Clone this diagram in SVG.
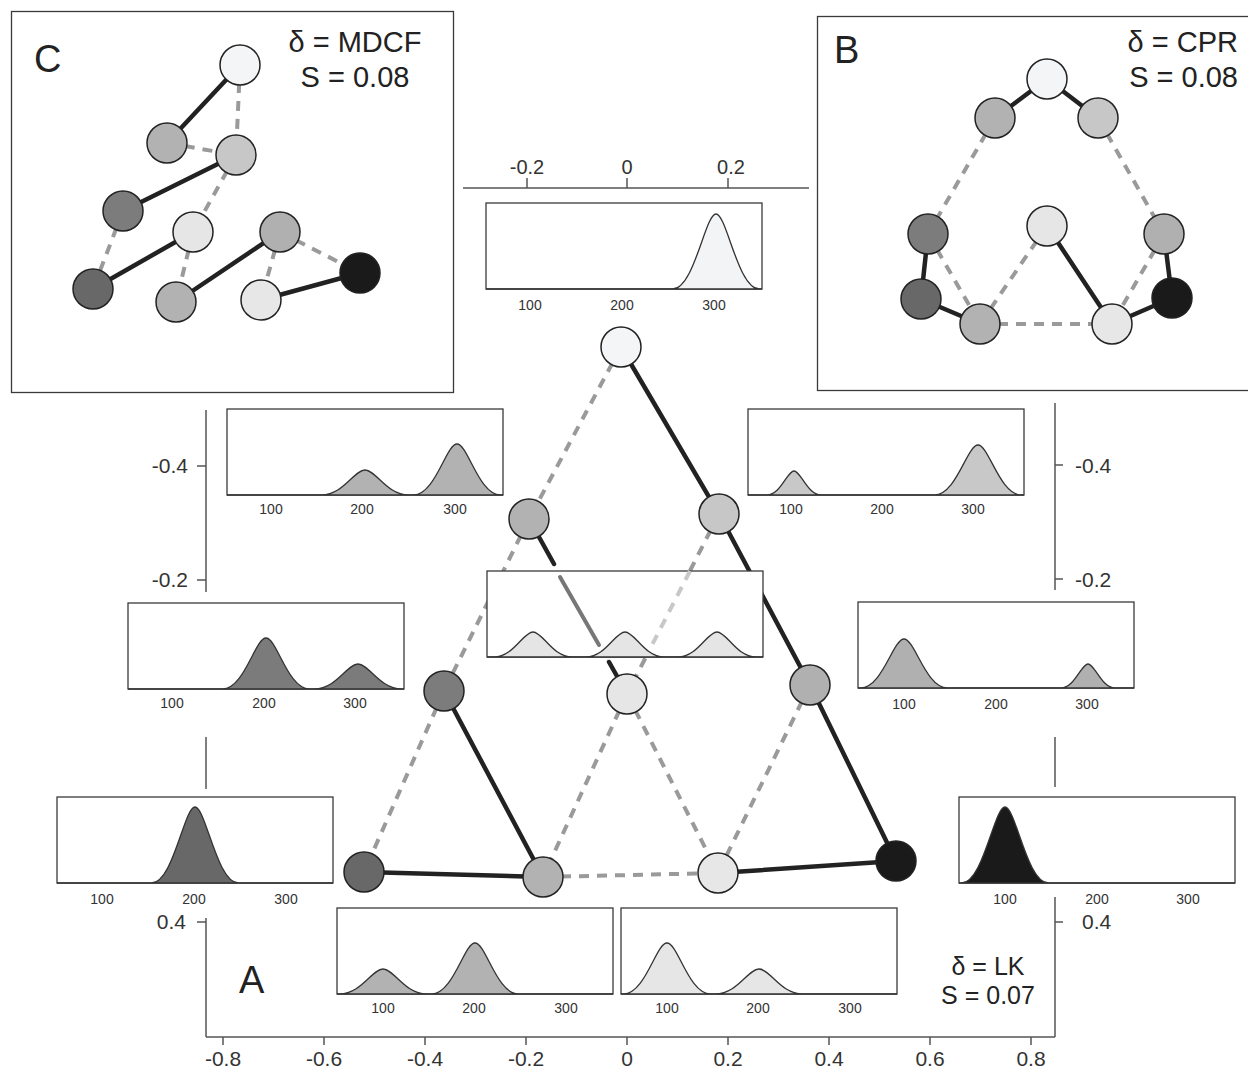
<svg xmlns="http://www.w3.org/2000/svg" width="1248" height="1070" viewBox="0 0 1248 1070">
<style>
.bg{fill:#fff}
.panel{fill:#fff;stroke:#3a3a3a;stroke-width:1.3}
.box{fill:#fff;stroke:#3a3a3a;stroke-width:1.3}
.dens{stroke:#333;stroke-width:1.3}
.lbl{font-family:"Liberation Sans",Arial,sans-serif;font-size:14px;fill:#333;text-anchor:middle}
.tk{font-family:"Liberation Sans",Arial,sans-serif;font-size:21px;fill:#333}
.axis{stroke:#555;stroke-width:1.5;fill:none}
.solid{stroke:#222;stroke-width:4.5;fill:none;stroke-linecap:round}
.dash{stroke:#9a9a9a;stroke-width:4;stroke-dasharray:10 8;fill:none}
.node{stroke:#222;stroke-width:1.5}
.big{font-family:"Liberation Sans",Arial,sans-serif;font-size:38px;fill:#222}
.stat{font-family:"Liberation Sans",Arial,sans-serif;font-size:29px;fill:#222}
.statA{font-family:"Liberation Sans",Arial,sans-serif;font-size:25px;fill:#222;text-anchor:middle}
</style>
<rect class="bg" x="0" y="0" width="1248" height="1070"/>

<!-- axes -->
<g id="axes">
<path class="axis" d="M206,1037 H1055 M206,410 V592 M206,737 V789 M206,918 V1037 M1055,403 V590 M1055,737 V787 M1055,897 V1037"/>
<path class="axis" d="M197,466 H206 M197,580 H206 M197,922 H206 M1055,465 H1063 M1055,579 H1063 M1055,922 H1063"/>
<path class="axis" d="M223,1037 V1045 M324,1037 V1045 M425,1037 V1045 M526,1037 V1045 M627,1037 V1045 M728,1037 V1045 M829,1037 V1045 M930,1037 V1045 M1031,1037 V1045"/>
<path class="axis" stroke="#777" stroke-width="2" d="M463,188 H809 M527,178 V188 M627,178 V188 M728,178 V188"/>
<g class="tk" text-anchor="middle">
<text x="223" y="1066">-0.8</text><text x="324" y="1066">-0.6</text><text x="425" y="1066">-0.4</text><text x="526" y="1066">-0.2</text><text x="627" y="1066">0</text><text x="728" y="1066">0.2</text><text x="829" y="1066">0.4</text><text x="930" y="1066">0.6</text><text x="1031" y="1066">0.8</text>
<text x="527" y="174" font-size="20">-0.2</text><text x="627" y="174" font-size="20">0</text><text x="731" y="174" font-size="20">0.2</text>
</g>
<g class="tk" text-anchor="end">
<text x="188" y="473">-0.4</text><text x="188" y="587">-0.2</text><text x="186" y="929">0.4</text>
</g>
<g class="tk">
<text x="1075" y="473">-0.4</text><text x="1075" y="587">-0.2</text><text x="1082" y="929">0.4</text>
</g>
</g>

<!-- connectors of main triangle -->
<g id="connectors">
<path class="dash" d="M621,347 L529,519 M529,519 L444,691 M444,691 L364,872 M719,514 L627,694 M627,694 L543,877 M627,694 L718,873 M810,685 L718,873 M543,877 L718,873"/>
<path class="solid" d="M621,347 L719,514 L810,685 L896,861"/>
<path class="solid" d="M529,519 L554,564 M609,662 L627,694 M444,691 L543,877 M364,872 L543,877 M718,873 L896,861"/>
</g>

<!-- density plots -->
<g id="plot-top">
<rect class="box" x="486" y="203" width="276" height="86"/>
<path class="dens" fill="#f3f4f6" d="M486,289 L672.5,289 c21.75,0 32.625,-75 43.5,-75 c10.875,0 21.75,75 43.5,75 L762,289 Z"/>
<text class="lbl" x="530" y="310">100</text><text class="lbl" x="622" y="310">200</text><text class="lbl" x="714" y="310">300</text>
</g>
<g id="plot-upper-left">
<rect class="box" x="227" y="409" width="276" height="86"/>
<path class="dens" fill="#b1b2b1" d="M227,495 L321.5,495 c21.75,0 32.625,-25 43.5,-25 c10.875,0 21.75,25 43.5,25 L413.5,495 c21.75,0 32.625,-51 43.5,-51 c10.875,0 21.75,51 43.5,51 L503,495 Z"/>
<text class="lbl" x="271" y="514">100</text><text class="lbl" x="362" y="514">200</text><text class="lbl" x="455" y="514">300</text>
</g>
<g id="plot-upper-right">
<rect class="box" x="748" y="409" width="276" height="86"/>
<path class="dens" fill="#c8c8c8" d="M748,495 L767,495 c13.5,0 20.25,-24 27,-24 c6.75,0 13.5,24 27,24 L934.5,495 c21.75,0 32.625,-50 43.5,-50 c10.875,0 21.75,50 43.5,50 L1024,495 Z"/>
<text class="lbl" x="791" y="514">100</text><text class="lbl" x="882" y="514">200</text><text class="lbl" x="973" y="514">300</text>
</g>
<g id="plot-mid-left">
<rect class="box" x="128" y="603" width="276" height="86"/>
<path class="dens" fill="#7b7b7b" d="M128,689 L222.5,689 c21.75,0 32.625,-51 43.5,-51 c10.875,0 21.75,51 43.5,51 L314.5,689 c21.75,0 32.625,-25 43.5,-25 c10.875,0 21.75,25 43.5,25 L404,689 Z"/>
<text class="lbl" x="172" y="708">100</text><text class="lbl" x="264" y="708">200</text><text class="lbl" x="355" y="708">300</text>
</g>
<g id="plot-mid-right">
<rect class="box" x="858" y="602" width="276" height="86"/>
<path class="dens" fill="#b0b0b0" d="M858,688 L860.5,688 c21.75,0 32.625,-49 43.5,-49 c10.875,0 21.75,49 43.5,49 L1061,688 c13.5,0 20.25,-24 27,-24 c6.75,0 13.5,24 27,24 L1134,688 Z"/>
<text class="lbl" x="904" y="709">100</text><text class="lbl" x="996" y="709">200</text><text class="lbl" x="1087" y="709">300</text>
</g>
<g id="plot-center">
<rect class="box" x="487" y="571" width="276" height="86"/>
<path class="dens" fill="#e4e5e4" d="M487,657 L494,657 c19.5,0 29.25,-25 39,-25 c9.75,0 19.5,25 39,25 L586,657 c19.5,0 29.25,-25 39,-25 c9.75,0 19.5,25 39,25 L678,657 c19.5,0 29.25,-25 39,-25 c9.75,0 19.5,25 39,25 L763,657 Z"/>
<path d="M560,577 L599,645" stroke="#777" stroke-width="4" stroke-linecap="round"/>
<path d="M690,571 L651.5,646" stroke="#c8c8c8" stroke-width="4" stroke-dasharray="10 8"/>
</g>
<g id="plot-bottom-left">
<rect class="box" x="57" y="797" width="276" height="86"/>
<path class="dens" fill="#686868" d="M57,883 L151.5,883 c21.75,0 32.625,-76 43.5,-76 c10.875,0 21.75,76 43.5,76 L333,883 Z"/>
<text class="lbl" x="102" y="904">100</text><text class="lbl" x="194" y="904">200</text><text class="lbl" x="286" y="904">300</text>
</g>
<g id="plot-bottom-right">
<rect class="box" x="959" y="797" width="276" height="86"/>
<path class="dens" fill="#1a1a1a" d="M959,883 L961.5,883 c21.75,0 32.625,-76 43.5,-76 c10.875,0 21.75,76 43.5,76 L1235,883 Z"/>
<text class="lbl" x="1005" y="904">100</text><text class="lbl" x="1097" y="904">200</text><text class="lbl" x="1188" y="904">300</text>
</g>
<g id="plot-bottom-center-left">
<rect class="box" x="337" y="908" width="276" height="86"/>
<path class="dens" fill="#b1b2b1" d="M337,994 L339.5,994 c21.75,0 32.625,-25 43.5,-25 c10.875,0 21.75,25 43.5,25 L431.5,994 c21.75,0 32.625,-51 43.5,-51 c10.875,0 21.75,51 43.5,51 L613,994 Z"/>
<text class="lbl" x="383" y="1013">100</text><text class="lbl" x="474" y="1013">200</text><text class="lbl" x="566" y="1013">300</text>
</g>
<g id="plot-bottom-center-right">
<rect class="box" x="621" y="908" width="276" height="86"/>
<path class="dens" fill="#e5e6e5" d="M621,994 L623.5,994 c21.75,0 32.625,-51 43.5,-51 c10.875,0 21.75,51 43.5,51 L715.5,994 c21.75,0 32.625,-25 43.5,-25 c10.875,0 21.75,25 43.5,25 L897,994 Z"/>
<text class="lbl" x="667" y="1013">100</text><text class="lbl" x="758" y="1013">200</text><text class="lbl" x="850" y="1013">300</text>
</g>

<!-- main nodes -->
<g id="node-T"><circle class="node" cx="621" cy="347" r="20" fill="#f4f5f7"/></g>
<g id="node-UL"><circle class="node" cx="529" cy="519" r="20" fill="#b1b2b1"/></g>
<g id="node-UR"><circle class="node" cx="719" cy="514" r="20" fill="#c7c7c7"/></g>
<g id="node-ML"><circle class="node" cx="444" cy="691" r="20" fill="#7c7c7c"/></g>
<g id="node-MC"><circle class="node" cx="627" cy="694" r="20" fill="#e5e6e5"/></g>
<g id="node-MR"><circle class="node" cx="810" cy="685" r="20" fill="#b0b0b0"/></g>
<g id="node-BL"><circle class="node" cx="364" cy="872" r="20" fill="#686868"/></g>
<g id="node-BCL"><circle class="node" cx="543" cy="877" r="20" fill="#b1b2b1"/></g>
<g id="node-BCR"><circle class="node" cx="718" cy="873" r="20" fill="#e6e7e6"/></g>
<g id="node-BR"><circle class="node" cx="896" cy="861" r="20" fill="#1a1a1a"/></g>

<text class="big" x="239" y="993">A</text>
<text class="statA" x="988" y="975">δ = LK</text>
<text class="statA" x="988" y="1004">S = 0.07</text>

<!-- Panel C -->
<g id="panel-C">
<rect class="panel" x="11.5" y="11.5" width="442" height="381"/>
<text class="big" x="34" y="72">C</text>
<text class="stat" x="355" y="52" text-anchor="middle">δ = MDCF</text>
<text class="stat" x="355" y="87" text-anchor="middle">S = 0.08</text>
<g id="panel-C-connectors">
<path class="dash" d="M240,65 L236,155 M167,143 L236,155 M236,155 L193,232 M123,211 L93,289 M193,232 L176,302 M280,232 L261,300 M280,232 L360,273"/>
<path class="solid" d="M240,65 L167,143 M236,155 L123,211 M193,232 L93,289 M280,232 L176,302 M261,300 L360,273"/>
</g>
<g id="c-T"><circle class="node" cx="240" cy="65" r="20" fill="#f4f5f7"/></g>
<g id="c-UL"><circle class="node" cx="167" cy="143" r="20" fill="#b1b2b1"/></g>
<g id="c-UR"><circle class="node" cx="236" cy="155" r="20" fill="#c7c7c7"/></g>
<g id="c-ML"><circle class="node" cx="123" cy="211" r="20" fill="#7c7c7c"/></g>
<g id="c-MC"><circle class="node" cx="193" cy="232" r="20" fill="#e5e6e5"/></g>
<g id="c-MR"><circle class="node" cx="280" cy="232" r="20" fill="#b0b0b0"/></g>
<g id="c-BR"><circle class="node" cx="360" cy="273" r="20" fill="#1a1a1a"/></g>
<g id="c-BL"><circle class="node" cx="93" cy="289" r="20" fill="#686868"/></g>
<g id="c-BCL"><circle class="node" cx="176" cy="302" r="20" fill="#b1b2b1"/></g>
<g id="c-BCR"><circle class="node" cx="261" cy="300" r="20" fill="#e6e7e6"/></g>
</g>

<!-- Panel B -->
<g id="panel-B">
<rect class="panel" x="817.5" y="16.5" width="440" height="374"/>
<text class="big" x="834" y="63">B</text>
<text class="stat" x="1238" y="52" text-anchor="end">δ = CPR</text>
<text class="stat" x="1238" y="87" text-anchor="end">S = 0.08</text>
<g id="panel-B-connectors">
<path class="dash" d="M995,118 L928,234 M1098,118 L1164,234 M928,234 L980,324 M1047,226 L980,324 M1164,234 L1112,324 M980,324 L1112,324"/>
<path class="solid" d="M1047,79 L995,118 M1047,79 L1098,118 M928,234 L921,299 M921,299 L980,324 M1047,226 L1112,324 M1112,324 L1172,298 M1164,234 L1172,298"/>
</g>
<g id="b-T"><circle class="node" cx="1047" cy="79" r="20" fill="#f4f5f7"/></g>
<g id="b-UL"><circle class="node" cx="995" cy="118" r="20" fill="#b1b2b1"/></g>
<g id="b-UR"><circle class="node" cx="1098" cy="118" r="20" fill="#c7c7c7"/></g>
<g id="b-MC"><circle class="node" cx="1047" cy="226" r="20" fill="#e5e6e5"/></g>
<g id="b-ML"><circle class="node" cx="928" cy="234" r="20" fill="#7c7c7c"/></g>
<g id="b-MR"><circle class="node" cx="1164" cy="234" r="20" fill="#b0b0b0"/></g>
<g id="b-BL"><circle class="node" cx="921" cy="299" r="20" fill="#686868"/></g>
<g id="b-BCL"><circle class="node" cx="980" cy="324" r="20" fill="#b1b2b1"/></g>
<g id="b-BCR"><circle class="node" cx="1112" cy="324" r="20" fill="#e6e7e6"/></g>
<g id="b-BR"><circle class="node" cx="1172" cy="298" r="20" fill="#1a1a1a"/></g>
</g>
</svg>
